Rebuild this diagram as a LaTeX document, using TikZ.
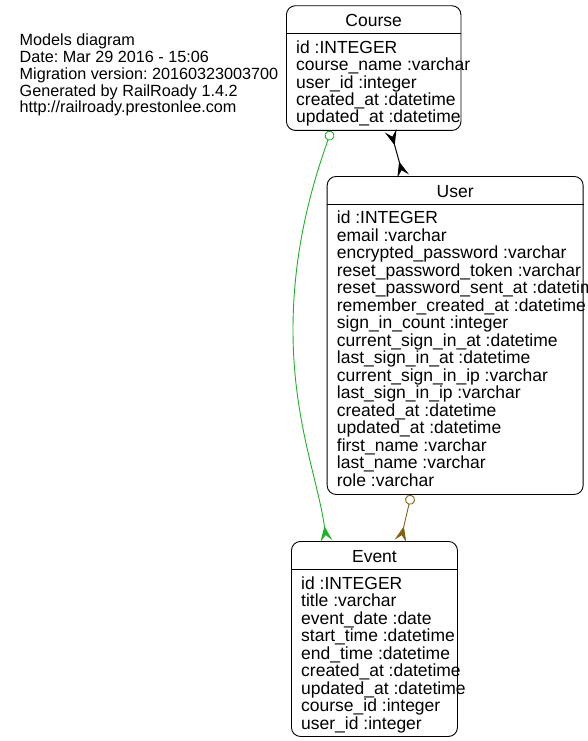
\documentclass[tikz,border=0pt]{standalone}
\usepackage{fontspec}
\setmainfont{Liberation Sans}
\usetikzlibrary{arrows.meta, positioning}
\definecolor{courseevent}{RGB}{30, 178, 40}
\definecolor{userevent}{RGB}{128, 98, 20}
\newcommand{\fieldfont}{\fontsize{17.5}{17.5}\selectfont}
\newcommand{\infofont}{\fontsize{16.2}{17}\selectfont}
\frenchspacing

\begin{document}
\begin{tikzpicture}[x=1pt, y=-1pt,
		entity/.style={draw, rounded corners=9pt, line width=0.9pt, inner sep=0pt, anchor=north west},
		head/.style={font=\fieldfont, anchor=base, inner sep=0pt},
		field/.style={font=\fieldfont, anchor=base west, inner sep=0pt},
		info/.style={font=\infofont, anchor=base west, inner sep=0pt},
		crow/.tip={Stealth[reversed, length=15pt, width=12pt, inset=6pt]},
		ring/.tip={Circle[open, length=10pt, line width=0.9pt]}
		]
		\useasboundingbox (0,0) rectangle (588,741);
		
		\foreach \t [count=\i from 0] in {Models diagram, Date: Mar 29 2016 - 15:06, Migration version: 20160323003700, Generated by RailRoady 1.4.2, http://railroady.prestonlee.com}{
			\node[info] (info\i) at (19.5, {46+16.7*\i}) {\t};
		}
		
		\node[entity, minimum width=174.5pt, minimum height=124.7pt] (course) at (286,5.3) {};
		\node[entity, minimum width=256pt, minimum height=318pt] (user) at (326.7,176) {};
		\node[entity, minimum width=166pt, minimum height=195pt] (event) at (291,541) {};
		
		\foreach \e/\n in {course/Course, user/User, event/Event}{
			\draw[line width=0.9pt] ([yshift=-28pt]\e.north west) -- ([yshift=-28pt]\e.north east);
			\node[head] (\e-title) at ([yshift=-21pt]\e.north) {\n};
		}
		
		\foreach \f [count=\i from 0] in {id :INTEGER, course\_name :varchar, user\_id :integer, created\_at :datetime, updated\_at :datetime}{
			\node[field] (course-f\i) at ([xshift=10pt, yshift={-48pt-17.4pt*\i}]course.north west) {\f};
		}
		\foreach \f [count=\i from 0] in {id :INTEGER, email :varchar, encrypted\_password :varchar, reset\_password\_token :varchar, reset\_password\_sent\_at :datetime, remember\_created\_at :datetime, sign\_in\_count :integer, current\_sign\_in\_at :datetime, last\_sign\_in\_at :datetime, current\_sign\_in\_ip :varchar, last\_sign\_in\_ip :varchar, created\_at :datetime, updated\_at :datetime, first\_name :varchar, last\_name :varchar, role :varchar}{
			\node[field] (user-f\i) at ([xshift=10pt, yshift={-47.5pt-17.5pt*\i}]user.north west) {\f};
		}
		\foreach \f [count=\i from 0] in {id :INTEGER, title :varchar, event\_date :date, start\_time :datetime, end\_time :datetime, created\_at :datetime, updated\_at :datetime, course\_id :integer, user\_id :integer}{
			\node[field] (event-f\i) at ([xshift=10pt, yshift={-48pt-17.5pt*\i}]event.north west) {\f};
		}
		
		\draw[line width=1pt, {crow}-{crow}] ([xshift=17pt]course.south) -- ([xshift=-52pt]user.north);
		\draw[courseevent, line width=0.9pt, {ring}-{crow}] ([xshift=-42.5pt]course.south) .. controls (312,185) and (293,250) .. (293,330) .. controls (293,420) and (318,480) .. ([xshift=-48pt]event.north);
		\draw[userevent, line width=0.9pt, {ring}-{crow}] ([xshift=-44pt]user.south) -- ([xshift=26pt]event.north);
		
	\end{tikzpicture}
\end{document}
